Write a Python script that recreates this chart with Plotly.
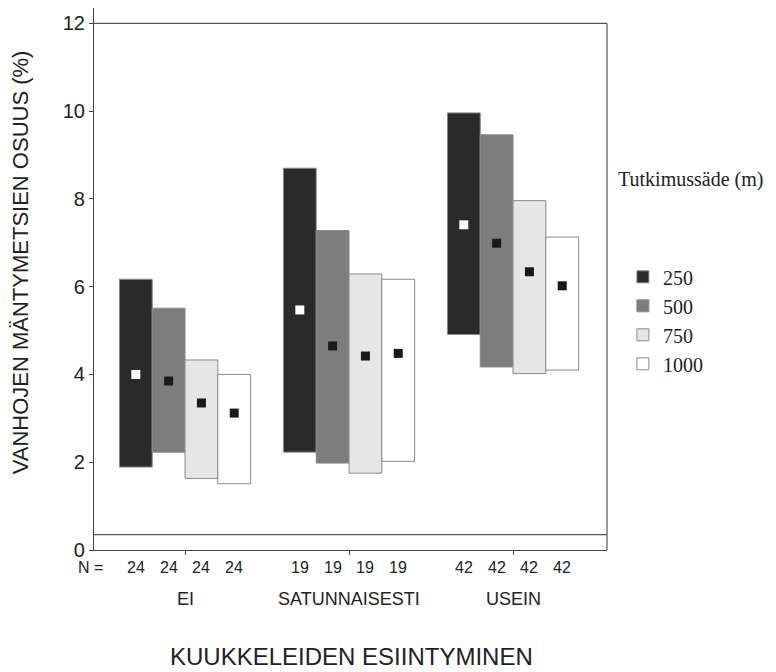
import plotly.graph_objects as go

groups = ["EI", "SATUNNAISESTI", "USEIN"]
radii = ["250", "500", "750", "1000"]
n_counts = [24, 19, 42]

low_250 = [1.89, 2.23, 4.91]
high_250 = [6.17, 8.70, 9.96]
mean_250 = [4.00, 5.47, 7.41]

low_500 = [2.23, 1.98, 4.17]
high_500 = [5.51, 7.28, 9.46]
mean_500 = [3.85, 4.65, 6.99]

low_750 = [1.63, 1.75, 4.02]
high_750 = [4.33, 6.29, 7.96]
mean_750 = [3.35, 4.42, 6.34]

low_1000 = [1.51, 2.02, 4.10]
high_1000 = [4.00, 6.17, 7.13]
mean_1000 = [3.12, 4.48, 6.02]

y_ticks = [0, 2, 4, 6, 8, 10, 12]
ref_line = 0.35

series = [
    (radii[0], low_250, high_250, mean_250),
    (radii[1], low_500, high_500, mean_500),
    (radii[2], low_750, high_750, mean_750),
    (radii[3], low_1000, high_1000, mean_1000),
]
fills = ["#2a2a2a", "#7d7d7d", "#e6e6e6", "#ffffff"]
mean_cols = ["#ffffff", "#1a1a1a", "#1a1a1a", "#1a1a1a"]

SANS = "Liberation Sans, Arial, sans-serif"
SERIF = "Liberation Serif, Times New Roman, serif"
INK = "#222222"

bw = 0.2
fig = go.Figure()
for i, (name, lo, hi, mn) in enumerate(series):
    xs = [g + (i - 1.5) * bw for g in range(len(groups))]
    fig.add_trace(go.Bar(
        x=xs, y=[h - l for h, l in zip(hi, lo)], base=lo, width=bw,
        name=name, marker=dict(color=fills[i], line=dict(color="#8a8a8a", width=1)),
        hoverinfo="skip", showlegend=True,
    ))
for i, (name, lo, hi, mn) in enumerate(series):
    xs = [g + (i - 1.5) * bw for g in range(len(groups))]
    fig.add_trace(go.Scatter(
        x=xs, y=mn, mode="markers", showlegend=False,
        marker=dict(symbol="square", size=9, color=mean_cols[i], line=dict(width=0)),
    ))

annotations = []
annotations.append(dict(text="N =", xref="paper", yref="paper", x=0.0214, y=0, xanchor="right",
                        yanchor="middle", yshift=-17, showarrow=False,
                        font=dict(family=SANS, size=16, color=INK)))
for g, n in enumerate(n_counts):
    for i in range(len(radii)):
        annotations.append(dict(text=str(n), xref="x", yref="paper", x=g + (i - 1.5) * bw, y=0,
                                xanchor="center", yanchor="middle", yshift=-17, showarrow=False,
                                font=dict(family=SANS, size=16, color=INK)))
    annotations.append(dict(text=groups[g], xref="x", yref="paper", x=g, y=0,
                            xanchor="center", yanchor="middle", yshift=-49, showarrow=False,
                            font=dict(family=SANS, size=18, color=INK)))
annotations.append(dict(text="KUUKKELEIDEN ESIINTYMINEN", xref="paper", yref="paper", x=0.502, y=0,
                        xanchor="center", yanchor="middle", yshift=-106, showarrow=False,
                        font=dict(family=SANS, size=24, color=INK)))
annotations.append(dict(text="VANHOJEN MÄNTYMETSIEN OSUUS (%)", xref="paper", yref="paper",
                        x=-0.144, y=0.531, xanchor="center", yanchor="middle", textangle=-90,
                        showarrow=False, font=dict(family=SANS, size=22, color=INK)))
annotations.append(dict(text="Tutkimussäde (m)", xref="paper", yref="paper", x=1.0175, y=0.683,
                        xanchor="left", yanchor="middle", showarrow=False,
                        font=dict(family=SERIF, size=20, color=INK)))

shapes = [
    dict(type="line", xref="paper", yref="y", x0=0, x1=1, y0=y_ticks[-1], y1=y_ticks[-1],
         line=dict(color="#555555", width=1.2)),
    dict(type="line", xref="paper", yref="y", x0=1, x1=1, y0=0, y1=y_ticks[-1],
         line=dict(color="#555555", width=1.2)),
    dict(type="line", xref="paper", yref="y", x0=0, x1=1, y0=ref_line, y1=ref_line,
         line=dict(color="#555555", width=1.2)),
]

fig.update_layout(
    width=776, height=672,
    margin=dict(l=94, r=169, t=8, b=122, autoexpand=False),
    plot_bgcolor="white", paper_bgcolor="white",
    barmode="overlay",
    xaxis=dict(range=[-0.555, 2.573], tickvals=[0, 1, 2], ticktext=["", "", ""],
               ticks="outside", ticklen=4, tickcolor="#444", showline=True, linecolor="#444",
               linewidth=1.2, showgrid=False, zeroline=False, automargin=False),
    yaxis=dict(range=[0, 12.35], tickvals=y_ticks, ticks="outside", ticklen=4, tickcolor="#444",
               showline=True, linecolor="#444", linewidth=1.2, showgrid=False, zeroline=False,
               automargin=False, tickfont=dict(family=SANS, size=20, color=INK)),
    legend=dict(x=1.031, y=0.54, xanchor="left", yanchor="top", font=dict(family=SERIF, size=20, color=INK),
                bgcolor="rgba(0,0,0,0)", itemwidth=30, tracegroupgap=0),
    annotations=annotations,
    shapes=shapes,
    showlegend=True,
)

fig.write_html("out.html", config={"displayModeBar": False},
               post_script="document.body.style.margin='0';document.body.style.overflow='hidden';")
